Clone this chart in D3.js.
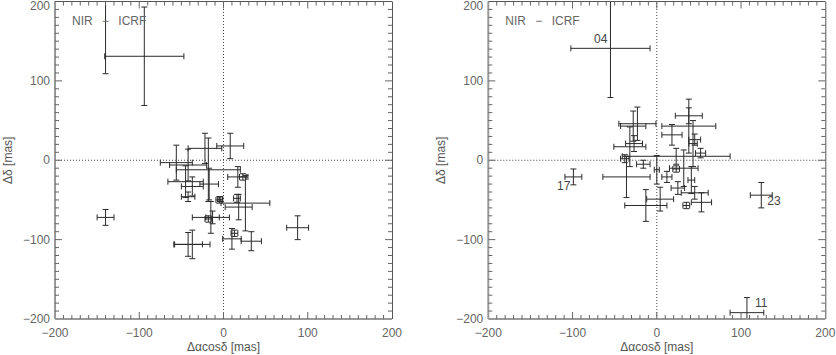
<!DOCTYPE html>
<html>
<head>
<meta charset="utf-8">
<script src="https://cdn.jsdelivr.net/npm/d3@7"></script>
<style>
body { margin: 0; background: #fff; }
svg { display: block; font-family: "Liberation Sans", Arial, Helvetica, sans-serif; }
</style>
</head>
<body>
<svg id="chart" width="836" height="355"></svg>
<script>
// offsets in mas: [dRAcosDec, dDec, errRA, errDec]
var leftPts = [
  [-94, 131, 47, 62], [-140, 240, 6, 131], [-140, -72, 10, 10],
  [-42, -106, 17, 15], [-37, -106, 21, 18], [-22, 15, 20, 19],
  [8, 18, 16, 16], [-56, -3, 19, 22], [-18, -12, 38, 40],
  [-42, -6, 22, 20], [-45, -27, 21, 20], [-37, -33, 13, 12],
  [-17, -30, 11, 20], [-42, -46, 8, 6], [-5, -50, 4, 4],
  [-15, -72, 22, 20], [-13, -72, 8, 8], [-18, -74, 4, 4],
  [17, -21, 12, 13], [23, -21, 4, 4], [26, -54, 29, 35],
  [18, -59, 16, 16], [16, -48, 4, 5], [-4, -49, 3, 3],
  [13, -92, 4, 4], [10, -99, 11, 13], [33, -102, 12, 12],
  [88, -85, 13, 15]
];

var rightPts = [
  [-55, 141, 47, 62], [-99, -21, 10, 10], [124, -44, 13, 16],
  [107, -192, 20, 19], [-36, -21, 28, 26], [-13, -57, 25, 20],
  [4, -49, 16, 15], [25, -35, 8, 8], [53, -53, 12, 12],
  [35, -57, 4, 4], [38, 43, 32, 34], [38, 56, 16, 10],
  [45, 26, 7, 7], [43, 21, 5, 29], [18, 32, 12, 13],
  [52, 9, 6, 6], [23, 5, 64, 10], [32, -10, 17, 23],
  [23, -11, 4, 4], [12, -21, 6, 7], [45, -41, 16, 8],
  [41, -25, 4, 17], [-23, 46, 22, 21], [-28, 43, 15, 19],
  [-32, 17, 19, 25], [-27, 21, 10, 10], [-38, 2, 5, 5],
  [-16, -5, 8, 5], [0, -12, 3, 18]
];

// source ids written next to some points of the right panel
var rightLabels = [
  {i: 0, text: "04", side: "nw"},
  {i: 1, text: "17", side: "sw"},
  {i: 2, text: "23", side: "se"},
  {i: 3, text: "11", side: "ne"}
];

var majorTicks = [-200, -100, 0, 100, 200];
var panelTitle = "NIR \u2002\u2212\u2002 ICRF";

var svg = d3.select("#chart");
var fmt = d3.format("d");

function drawPanel(x0, pts, labels, id) {
  var x = d3.scaleLinear().domain([-200, 200]).range([x0, x0 + 337]);
  var y = d3.scaleLinear().domain([-200, 200]).range([319, 1.5]);
  var g = svg.append("g");

  g.append("clipPath").attr("id", id)
    .append("rect")
    .attr("x", x(-200)).attr("y", y(200))
    .attr("width", x(200) - x(-200)).attr("height", y(-200) - y(200));

  // zero lines
  g.append("line")
    .attr("x1", x(-200)).attr("x2", x(200)).attr("y1", y(0)).attr("y2", y(0))
    .attr("stroke", "#444").attr("stroke-dasharray", "1,2");
  g.append("line")
    .attr("x1", x(0)).attr("x2", x(0)).attr("y1", y(-200)).attr("y2", y(200))
    .attr("stroke", "#444").attr("stroke-dasharray", "1,2");

  // error bars
  var bars = g.append("g").attr("clip-path", "url(#" + id + ")")
    .attr("stroke", "#2a2a2a").attr("stroke-width", 1).attr("fill", "none");
  var cap = 3;
  pts.forEach(function(d) {
    var cx = x(d[0]), cy = y(d[1]);
    var xl = x(d[0] - d[2]), xr = x(d[0] + d[2]);
    var yt = y(d[1] + d[3]), yb = y(d[1] - d[3]);
    bars.append("path").attr("d",
      "M" + xl + "," + cy + "H" + xr +
      "M" + xl + "," + (cy - cap) + "V" + (cy + cap) +
      "M" + xr + "," + (cy - cap) + "V" + (cy + cap) +
      "M" + cx + "," + yt + "V" + yb +
      "M" + (cx - cap) + "," + yt + "H" + (cx + cap) +
      "M" + (cx - cap) + "," + yb + "H" + (cx + cap));
  });

  // point labels
  labels.forEach(function(l) {
    var d = pts[l.i];
    var cx = x(d[0]), cy = y(d[1]);
    var t = g.append("text").text(l.text)
      .attr("font-size", 12).attr("fill", "#444");
    if (l.side == "nw") t.attr("x", cx - 3).attr("y", cy - 5).attr("text-anchor", "end");
    if (l.side == "sw") t.attr("x", cx - 3).attr("y", cy + 13).attr("text-anchor", "end");
    if (l.side == "se") t.attr("x", cx + 6).attr("y", cy + 10);
    if (l.side == "ne") t.attr("x", cx + 8).attr("y", cy - 6);
  });

  // frame
  var L = x(-200), R = x(200), T = y(200), B = y(-200);
  g.append("line").attr("x1", L).attr("x2", L).attr("y1", T).attr("y2", B)
    .attr("stroke", "#999").attr("stroke-width", 2);
  g.append("line").attr("x1", L).attr("x2", R).attr("y1", B).attr("y2", B)
    .attr("stroke", "#999").attr("stroke-width", 2);
  g.append("line").attr("x1", L).attr("x2", R).attr("y1", T).attr("y2", T)
    .attr("stroke", "#555");
  g.append("line").attr("x1", R + 0.5).attr("x2", R + 0.5).attr("y1", T).attr("y2", B)
    .attr("stroke", "#555");

  // inward ticks on all four sides
  var minor = d3.range(-200, 201, 10);
  var tk = g.append("g").attr("stroke", "#666");
  minor.forEach(function(v) {
    var len = (v % 100 == 0) ? 7 : 4;
    if (v > -200 && v < 200) {
      tk.append("line").attr("x1", x(v)).attr("x2", x(v)).attr("y1", B).attr("y2", B - len);
      tk.append("line").attr("x1", x(v)).attr("x2", x(v)).attr("y1", T).attr("y2", T + len);
      tk.append("line").attr("x1", L).attr("x2", L + len).attr("y1", y(v)).attr("y2", y(v));
      tk.append("line").attr("x1", R).attr("x2", R - len).attr("y1", y(v)).attr("y2", y(v));
    }
  });

  // tick labels
  g.selectAll(".xl").data(majorTicks).enter().append("text")
    .attr("x", function(d) { return x(d); }).attr("y", 337)
    .attr("text-anchor", "middle").attr("font-size", 12).attr("fill", "#666")
    .text(function(d) { return fmt(d); });
  g.selectAll(".yl").data(majorTicks).enter().append("text")
    .attr("x", L - 5).attr("y", function(d) { return Math.max(y(d) + 4, 10); })
    .attr("text-anchor", "end").attr("font-size", 12).attr("fill", "#666")
    .text(function(d) { return fmt(d); });

  // axis titles
  g.append("text").attr("x", x(0)).attr("y", 351)
    .attr("text-anchor", "middle").attr("font-size", 12).attr("fill", "#555")
    .text("\u0394\u03b1cos\u03b4 [mas]");
  g.append("text")
    .attr("transform", "translate(" + (L - 43) + "," + y(0) + ") rotate(-90)")
    .attr("text-anchor", "middle").attr("font-size", 12).attr("fill", "#555")
    .text("\u0394\u03b4 [mas]");

  g.append("text").attr("x", L + 17).attr("y", 25)
    .attr("font-size", 12).attr("fill", "#666")
    .text(panelTitle);
}

drawPanel(55, leftPts, [], "clipL");
drawPanel(488.3, rightPts, rightLabels, "clipR");
</script>
</body>
</html>
